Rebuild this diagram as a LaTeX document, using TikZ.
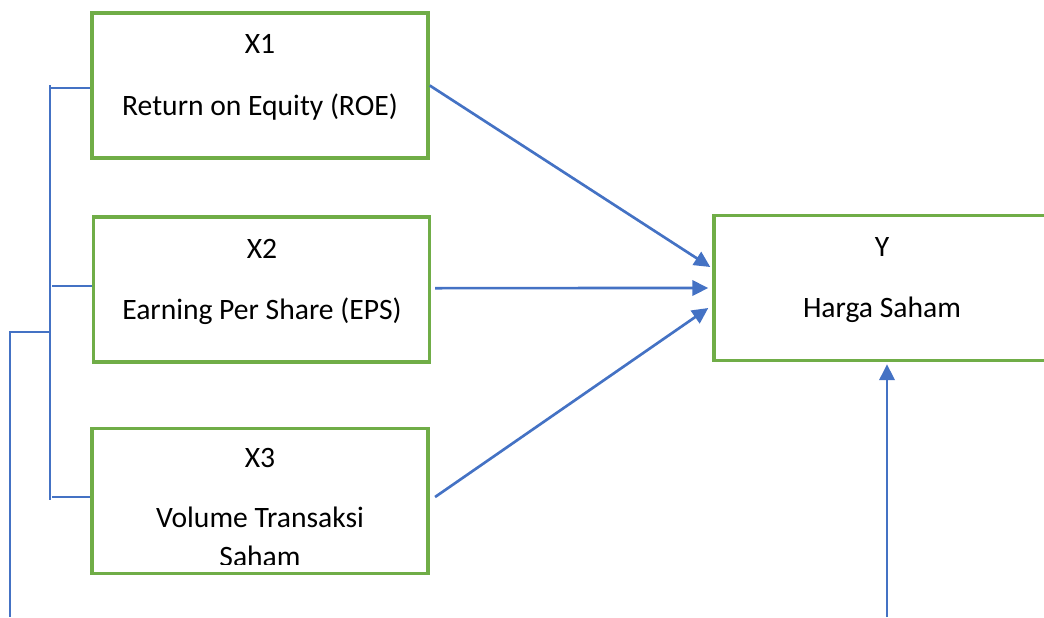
\documentclass[tikz,border=0pt]{standalone}
\usepackage{fontspec}
\setmainfont{Carlito}
\usetikzlibrary{arrows.meta}
\definecolor{boxgreen}{RGB}{112,173,71}
\definecolor{linkblue}{RGB}{68,114,196}
\tikzset{
  box/.style={draw=boxgreen, line width=2.6pt, minimum width=252pt, minimum height=108.75pt, inner sep=0pt},
  lbl/.style={anchor=base, inner sep=0pt, font=\fontsize{22.2}{27}\selectfont},
  link/.style={draw=linkblue, line width=2pt, -{Triangle[length=12pt, width=11.5pt]}},
  brace/.style={draw=linkblue, line width=1.3pt}
}

\begin{document}
\begin{tikzpicture}[x=0.75pt, y=-0.75pt]

			\useasboundingbox (0,0) rectangle (1044,617);
			\clip (0,0) rectangle (1044,617);

			% boxes
			\node [box] (x1) at (260, 85.5) {};
			\node [box] (x2) at (261.5, 289.5) {};
			\node [box] (x3) at (260, 501) {};
			\node [box] (y) at (882, 288) {};

			% texts
			\node [lbl] (x1id) at (260, 54) {X1};
			\node [lbl] (x1name) at (260, 115) {Return on Equity (ROE)};
			\node [lbl] (x2id) at (262, 258) {X2};
			\node [lbl] (x2name) at (262, 319) {Earning Per Share (EPS)};
			\node [lbl] (x3id) at (260, 467) {X3};
			\node [lbl] (x3name) at (260, 527) {Volume Transaksi};
			\begin{scope}
				\clip (92, 428) rectangle (428, 564);
				\node [lbl] (x3more) at (260, 566) {Saham};
			\end{scope}
			\node [lbl] (yid) at (882, 256) {Y};
			\node [lbl] (yname) at (882, 317) {Harga Saham};

			% arrows into Y
			\draw [link] (x1.east) -- ([xshift=-1.5pt, yshift=15.75pt]y.west);
			\draw [link] ([xshift=3pt, yshift=1pt]x2.east) -- ([xshift=-3pt]y.west);
			\draw [link] ([xshift=4pt, yshift=3pt]x3.east) -- ([xshift=-3pt, yshift=-15pt]y.west);

			\coordinate (ybot) at (887, 617);
			\draw [link] (ybot) -- ([yshift=-1.5pt]ybot |- y.south);

			% bracket on the left
			\coordinate (btop) at (50, 85);
			\coordinate (bbot) at (50, 500);
			\coordinate (bmid) at (50, 332);
			\coordinate (outer) at (10, 332);
			\draw [brace] (btop) -- (bbot);
			\draw [brace] (50, 88) -- (x1.west |- 0, 88);
			\draw [brace] (52, 286) -- (x2.west |- 0, 286);
			\draw [brace] (52, 497) -- (x3.west |- 0, 497);
			\draw [brace] (bmid) -- (outer) -- (10, 617);

\end{tikzpicture}
\end{document}
